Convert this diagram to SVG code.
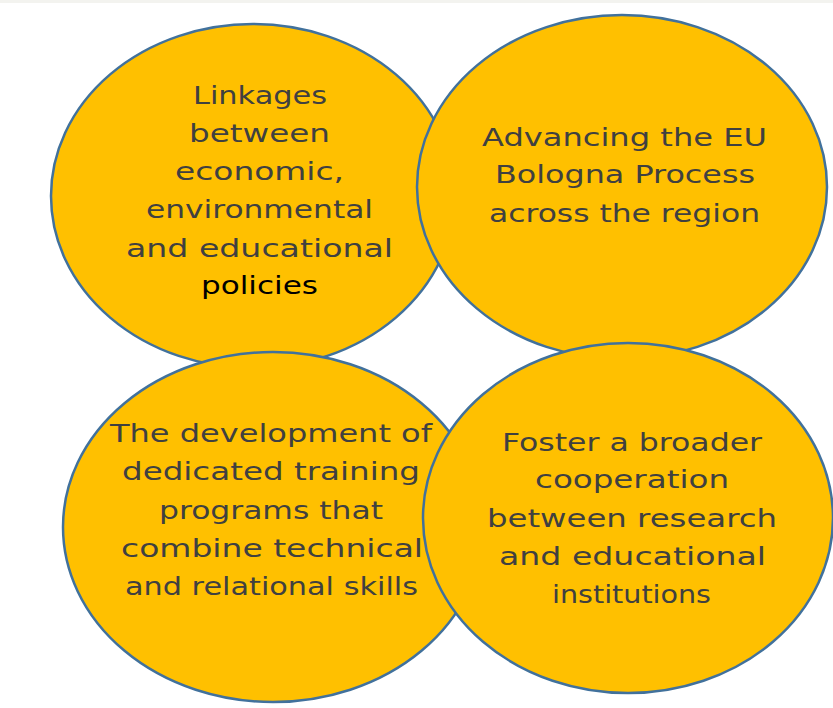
<svg xmlns="http://www.w3.org/2000/svg" width="833" height="708" viewBox="0 0 833 708">
<style>
.blob{fill:#FFC000;stroke:#41719C;stroke-width:2.5}
.t{font-family:"DejaVu Sans",sans-serif;font-size:24px;fill:#404040}
.k{fill:#000}
</style>
<rect width="833" height="708" fill="#ffffff"/>
<rect width="833" height="3" fill="#f3f3ef"/>
<g id="node1">
<ellipse class="blob" cx="253" cy="196" rx="202" ry="172"/>
<text class="t" x="193" y="104" textLength="134" lengthAdjust="spacingAndGlyphs">Linkages</text>
<text class="t" x="189" y="142" textLength="141" lengthAdjust="spacingAndGlyphs">between</text>
<text class="t" x="175" y="180" textLength="169" lengthAdjust="spacingAndGlyphs">economic,</text>
<text class="t" x="146" y="218" textLength="227" lengthAdjust="spacingAndGlyphs">environmental</text>
<text class="t" x="126" y="257" textLength="267" lengthAdjust="spacingAndGlyphs">and educational</text>
<text class="t k" x="201" y="294" textLength="117" lengthAdjust="spacingAndGlyphs">policies</text>
</g>
<g id="node2">
<ellipse class="blob" cx="622" cy="187" rx="205" ry="172"/>
<text class="t" x="482" y="146" textLength="285" lengthAdjust="spacingAndGlyphs">Advancing the EU</text>
<text class="t" x="495" y="183" textLength="260" lengthAdjust="spacingAndGlyphs">Bologna Process</text>
<text class="t" x="489" y="222" textLength="271" lengthAdjust="spacingAndGlyphs">across the region</text>
</g>
<g id="node3">
<ellipse class="blob" cx="273" cy="527" rx="210" ry="175"/>
<text class="t" x="110" y="442" textLength="322" lengthAdjust="spacingAndGlyphs">The development of</text>
<text class="t" x="122" y="480" textLength="298" lengthAdjust="spacingAndGlyphs">dedicated training</text>
<text class="t" x="159" y="519" textLength="224" lengthAdjust="spacingAndGlyphs">programs that</text>
<text class="t" x="121" y="557" textLength="302" lengthAdjust="spacingAndGlyphs">combine technical</text>
<text class="t" x="125" y="595" textLength="293" lengthAdjust="spacingAndGlyphs">and relational skills</text>
</g>
<g id="node4">
<ellipse class="blob" cx="628" cy="518" rx="205" ry="175"/>
<text class="t" x="502" y="451" textLength="260" lengthAdjust="spacingAndGlyphs">Foster a broader</text>
<text class="t" x="535" y="488" textLength="194" lengthAdjust="spacingAndGlyphs">cooperation</text>
<text class="t" x="487" y="527" textLength="290" lengthAdjust="spacingAndGlyphs">between research</text>
<text class="t" x="499" y="565" textLength="267" lengthAdjust="spacingAndGlyphs">and educational</text>
<text class="t" x="552" y="603" textLength="159" lengthAdjust="spacingAndGlyphs">institutions</text>
</g>
<g id="connectors"></g>
</svg>
